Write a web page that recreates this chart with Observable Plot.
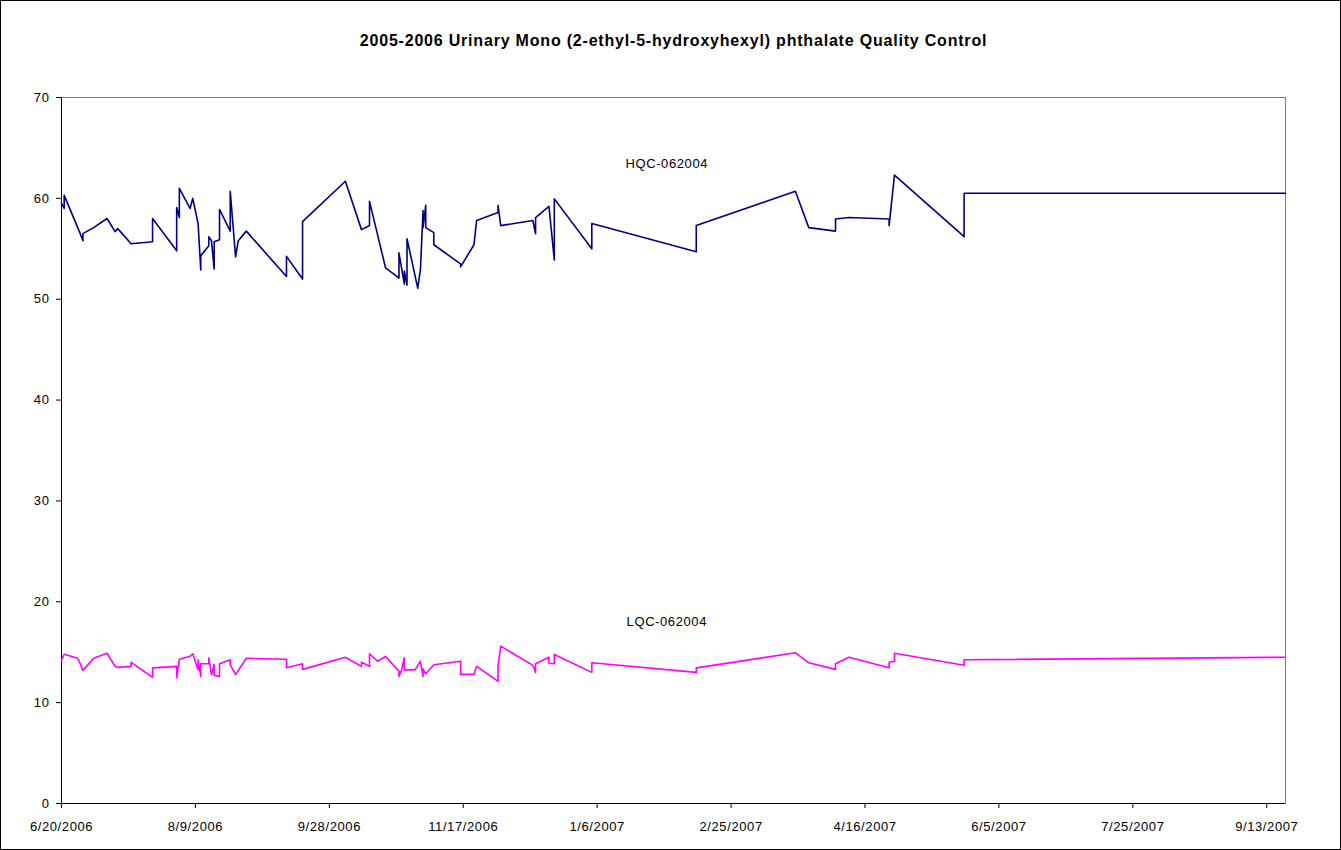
<!DOCTYPE html>
<html>
<head>
<meta charset="utf-8">
<script src="https://cdn.jsdelivr.net/npm/d3@7"></script>
<script src="https://cdn.jsdelivr.net/npm/@observablehq/plot@0.6"></script>
<style>
  html, body { margin: 0; padding: 0; background: #fff; }
  #chart svg { display: block; outline: 1px solid #000; outline-offset: -1px; }
  #chart svg text { letter-spacing: 0.6px; }
  #chart svg g[aria-label="text"]:last-of-type text { letter-spacing: 0.8px; }
</style>
</head>
<body>
<div id="chart"></div>
<script>
const titleText = "2005-2006 Urinary Mono (2-ethyl-5-hydroxyhexyl) phthalate Quality Control";

const hqcDates = [
  "2006-06-20","2006-06-21","2006-06-21","2006-06-27","2006-06-28","2006-06-28","2006-07-02","2006-07-07",
  "2006-07-10","2006-07-11","2006-07-16","2006-07-24","2006-07-24","2006-08-02","2006-08-02","2006-08-03",
  "2006-08-03","2006-08-07","2006-08-08","2006-08-10","2006-08-11","2006-08-11","2006-08-14","2006-08-14",
  "2006-08-15","2006-08-16","2006-08-16","2006-08-18","2006-08-18","2006-08-22","2006-08-22","2006-08-24",
  "2006-08-25","2006-08-28","2006-09-12","2006-09-12","2006-09-18","2006-09-18","2006-10-04","2006-10-10",
  "2006-10-13","2006-10-13","2006-10-19","2006-10-24","2006-10-24","2006-10-26","2006-10-26","2006-10-27",
  "2006-10-27","2006-10-31","2006-11-01","2006-11-02","2006-11-02","2006-11-03","2006-11-03","2006-11-06",
  "2006-11-06","2006-11-16","2006-11-16","2006-11-21","2006-11-22","2006-11-30","2006-11-30","2006-12-01",
  "2006-12-13","2006-12-14","2006-12-14","2006-12-19","2006-12-21","2006-12-21","2007-01-04","2007-01-04",
  "2007-02-12","2007-02-12","2007-03-21","2007-03-26","2007-04-05","2007-04-05","2007-04-10","2007-04-25",
  "2007-04-25","2007-04-27","2007-05-23","2007-05-23","2007-09-20"
];
const hqcValues = [
  59.5, 59.0, 60.3, 56.5, 55.8, 56.5, 57.1, 58.0,
  56.7, 57.0, 55.5, 55.7, 58.0, 54.8, 59.1, 58.1,
  61.0, 59.0, 60.0, 57.5, 52.9, 54.3, 55.3, 56.2,
  55.8, 53.0, 55.7, 55.9, 58.9, 56.75, 60.7, 54.2,
  55.8, 56.75, 52.25, 54.25, 52.0, 57.7, 61.7, 56.9,
  57.3, 59.7, 53.1, 52.1, 54.6, 51.5, 52.8, 51.4,
  56.0, 51.1, 52.9, 58.8, 57.1, 59.3, 57.1, 56.6,
  55.4, 53.5, 53.2, 55.4, 57.8, 58.6, 59.3, 57.3,
  57.8, 56.5, 58.1, 59.2, 53.9, 59.95, 55.0, 57.5,
  54.7, 57.3, 60.7, 57.1, 56.75, 57.95, 58.1, 57.95,
  57.3, 62.3, 56.2, 60.5, 60.5
];

const lqcDates = [
  "2006-06-20","2006-06-21","2006-06-26","2006-06-27","2006-06-28","2006-07-02","2006-07-07","2006-07-10",
  "2006-07-11","2006-07-16","2006-07-16","2006-07-24","2006-07-24","2006-08-02","2006-08-02","2006-08-03",
  "2006-08-07","2006-08-08","2006-08-10","2006-08-10","2006-08-11","2006-08-11","2006-08-14","2006-08-14",
  "2006-08-15","2006-08-16","2006-08-16","2006-08-18","2006-08-18","2006-08-22","2006-08-22","2006-08-24",
  "2006-08-28","2006-09-12","2006-09-12","2006-09-18","2006-09-18","2006-10-04","2006-10-10","2006-10-10",
  "2006-10-13","2006-10-13","2006-10-16","2006-10-19","2006-10-24","2006-10-24","2006-10-25","2006-10-26",
  "2006-10-26","2006-10-30","2006-11-01","2006-11-02","2006-11-02","2006-11-03","2006-11-06","2006-11-16",
  "2006-11-16","2006-11-21","2006-11-22","2006-11-30","2006-11-30","2006-12-01","2006-12-13","2006-12-14",
  "2006-12-14","2006-12-19","2006-12-19","2006-12-21","2006-12-21","2007-01-04","2007-01-04","2007-02-12",
  "2007-02-12","2007-03-21","2007-03-26","2007-04-05","2007-04-05","2007-04-10","2007-04-25","2007-04-25",
  "2007-04-27","2007-04-27","2007-05-23","2007-05-23","2007-09-20"
];
const lqcValues = [
  14.2, 14.8, 14.4, 13.85, 13.2, 14.4, 14.9, 13.6,
  13.5, 13.6, 14.0, 12.5, 13.45, 13.6, 12.45, 14.3,
  14.6, 14.85, 13.25, 14.25, 12.6, 13.85, 13.85, 14.45,
  12.76, 13.8, 12.7, 12.6, 13.85, 14.25, 13.75, 12.8,
  14.4, 14.3, 13.45, 13.85, 13.3, 14.5, 13.6, 14.0,
  13.6, 14.85, 14.1, 14.57, 13.1, 12.6, 13.25, 14.45,
  13.25, 13.25, 14.1, 12.6, 13.35, 12.86, 13.75, 14.1,
  12.8, 12.8, 13.6, 12.1, 13.7, 15.6, 13.7, 13.0,
  13.85, 14.5, 13.9, 13.85, 14.77, 13.0, 13.95, 13.0,
  13.45, 14.94, 13.95, 13.3, 13.85, 14.5, 13.45, 14.0,
  14.1, 14.9, 13.7, 14.25, 14.5
];

const seriesNames = ["HQC-062004", "LQC-062004"];
const seriesColors = ["#000080", "#FF00FF"];
const labelDates = ["2007-02-01", "2007-02-01"];
const labelValues = [63.4, 18.0];

const xTickDates = ["2006-06-20","2006-08-09","2006-09-28","2006-11-17","2007-01-06","2007-02-25","2007-04-16","2007-06-05","2007-07-25","2007-09-13"];
const xDomain = ["2006-06-20", "2007-09-20"];
const yTicks = [0, 10, 20, 30, 40, 50, 60, 70];

const parse = s => new Date(s + "T00:00:00Z");
const fmt = d => `${d.getUTCMonth() + 1}/${d.getUTCDate()}/${d.getUTCFullYear()}`;

const hqc = hqcDates.map((d, i) => ({date: parse(d), value: hqcValues[i]}));
const lqc = lqcDates.map((d, i) => ({date: parse(d), value: lqcValues[i]}));
const labels = seriesNames.map((n, i) => ({name: n, date: parse(labelDates[i]), value: labelValues[i]}));
const xTicks = xTickDates.map(parse);
const x0 = parse(xDomain[0]);

const chart = Plot.plot({
  width: 1341,
  height: 850,
  marginLeft: 61,
  marginRight: 56,
  marginTop: 97,
  marginBottom: 47,
  style: {fontFamily: "'Liberation Sans', Arial, sans-serif", fontSize: "13px", color: "#000", background: "#fff"},
  x: {type: "utc", domain: xDomain.map(parse)},
  y: {domain: [0, 70]},
  marks: [
    Plot.frame({stroke: "#808080"}),
    Plot.ruleY([0], {stroke: "#000"}),
    Plot.ruleX([x0], {stroke: "#000"}),
    Plot.axisX({ticks: xTicks, tickFormat: fmt, tickSize: 5, tickPadding: 13, label: null, stroke: "#000"}),
    Plot.axisY({ticks: yTicks, tickSize: 5, tickPadding: 7, label: null, stroke: "#000"}),
    Plot.lineY(hqc, {x: "date", y: "value", stroke: seriesColors[0], strokeWidth: 1.6}),
    Plot.lineY(lqc, {x: "date", y: "value", stroke: seriesColors[1], strokeWidth: 1.6}),
    Plot.text(labels, {x: "date", y: "value", text: "name", fontSize: 13, fill: "#000"}),
    Plot.text([titleText], {frameAnchor: "top", dy: -63, fontWeight: "bold", fontSize: 16, fill: "#000"})
  ]
});
document.getElementById("chart").appendChild(chart);
</script>
</body>
</html>
